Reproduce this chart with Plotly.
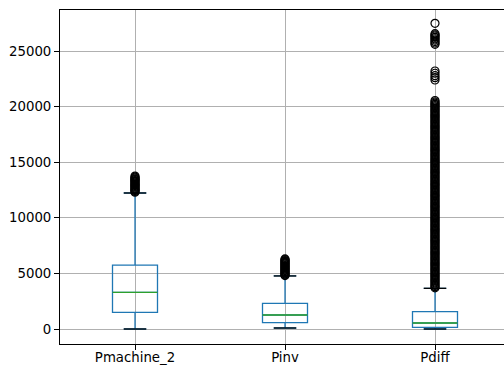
import plotly.graph_objects as go

categories = ["Pmachine_2", "Pinv", "Pdiff"]
positions = [1, 2, 3]
q1 = [1500, 570, 150]
median = [3300, 1260, 540]
q3 = [5750, 2300, 1560]
lower_whisker = [0, 90, 0]
upper_whisker = [12230, 4770, 3660]

outliers_pmachine = [12300, 12380, 12450, 12530, 12600, 12680, 12750, 12830, 12900,
                     12980, 13050, 13130, 13200, 13280, 13350, 13430, 13500, 13580,
                     13650, 13750]
outliers_pinv = [4800, 4880, 4950, 5030, 5100, 5180, 5250, 5330, 5400, 5480, 5550,
                 5630, 5700, 5780, 5850, 5930, 6000, 6080, 6150, 6230, 6300]
outliers_pdiff = [
    3700, 3810, 3920, 4030, 4140, 4250, 4360, 4470, 4580, 4690, 4800, 4910, 5020,
    5130, 5240, 5350, 5460, 5570, 5680, 5790, 5900, 6010, 6120, 6230, 6340, 6450,
    6560, 6670, 6780, 6890, 7000, 7110, 7220, 7330, 7440, 7550, 7660, 7770, 7880,
    7990, 8100, 8210, 8320, 8430, 8540, 8650, 8760, 8870, 8980, 9090, 9200, 9310,
    9420, 9530, 9640, 9750, 9860, 9970, 10080, 10190, 10300, 10410, 10520, 10630,
    10740, 10850, 10960, 11070, 11180, 11290, 11400, 11510, 11620, 11730, 11840,
    11950, 12060, 12170, 12280, 12390, 12500, 12610, 12720, 12830, 12940, 13050,
    13160, 13270, 13380, 13490, 13600, 13710, 13820, 13930, 14040, 14150, 14260,
    14370, 14480, 14590, 14700, 14810, 14920, 15030, 15140, 15250, 15360, 15470,
    15580, 15690, 15800, 15910, 16020, 16130, 16240, 16350, 16460, 16570, 16680,
    16790, 16900, 17010, 17120, 17230, 17340, 17450, 17560, 17670, 17780, 17890,
    18000, 18110, 18220, 18330, 18440, 18550, 18660, 18770, 18880, 18990, 19100,
    19210, 19320, 19430, 19540, 19650, 19760, 19870, 19980, 20090, 20200, 20310,
    20420, 20550,
    22390, 22600, 22780, 23000, 23200,
    25600, 25720, 25850, 25980, 26100, 26230, 26350, 26450, 26560, 27490,
]
outliers = [outliers_pmachine, outliers_pinv, outliers_pdiff]

y_ticks = [0, 5000, 10000, 15000, 20000, 25000]
y_tick_labels = ["0", "5000", "10000", "15000", "20000", "25000"]

BLUE = "#1f77b4"
GREEN = "#2ca02c"
BOX_W = 0.3

fig = go.Figure()

fig.add_trace(go.Box(
    x=positions, q1=q1, median=median, q3=q3,
    lowerfence=lower_whisker, upperfence=upper_whisker,
    width=BOX_W, whiskerwidth=0.5,
    line=dict(color=BLUE, width=1.3),
    fillcolor="rgba(0,0,0,0)", boxpoints=False, hoverinfo="skip",
    showlegend=False,
))

# medians (green) and caps (black)
mx, my, cx, cy = [], [], [], []
for p, m, lo, hi in zip(positions, median, lower_whisker, upper_whisker):
    mx += [p - BOX_W / 2, p + BOX_W / 2, None]
    my += [m, m, None]
    for v in (lo, hi):
        cx += [p - BOX_W / 4, p + BOX_W / 4, None]
        cy += [v, v, None]
fig.add_trace(go.Scatter(x=mx, y=my, mode="lines", line=dict(color=GREEN, width=1.3),
                         showlegend=False, hoverinfo="skip"))
fig.add_trace(go.Scatter(x=cx, y=cy, mode="lines", line=dict(color="black", width=1.3),
                         showlegend=False, hoverinfo="skip"))

for p, vals in zip(positions, outliers):
    fig.add_trace(go.Scatter(
        x=[p] * len(vals), y=vals, mode="markers",
        marker=dict(symbol="circle-open", size=8, color="black", line=dict(width=1.2)),
        showlegend=False, hoverinfo="skip",
    ))

fig.update_layout(
    width=504, height=367,
    margin=dict(l=60, r=0, t=10, b=23),
    paper_bgcolor="white", plot_bgcolor="white",
    font=dict(family="DejaVu Sans", size=13.3, color="black"),
    xaxis=dict(
        range=[0.5, 3.46], tickvals=positions, ticktext=categories,
        showgrid=True, gridcolor="#b0b0b0", gridwidth=1,
        showline=True, linecolor="black", linewidth=1, mirror=True,
        ticks="outside", ticklen=5, tickcolor="black", zeroline=False,
        automargin=False, ticklabelstandoff=-4,
    ),
    yaxis=dict(
        range=[-1349, 28687], tickvals=y_ticks, ticktext=y_tick_labels,
        showgrid=True, gridcolor="#b0b0b0", gridwidth=1,
        showline=True, linecolor="black", linewidth=1, mirror=False,
        ticks="outside", ticklen=5, tickcolor="black", zeroline=False,
        automargin=False,
    ),
)

fig.write_html("out.html")
